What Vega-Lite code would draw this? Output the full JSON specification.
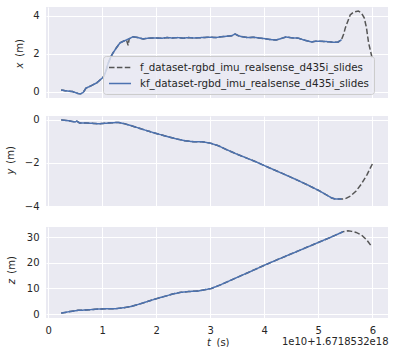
{
"$schema": "https://vega.github.io/schema/vega-lite/v6.json",
"background": "white",
"padding": {"left": 5, "top": 7, "right": 5, "bottom": 0},
"spacing": 16,
"datasets": {
"xd": [
{"s":"f","t":0.24,"v":0.10},{"s":"f","t":0.35,"v":0.05},{"s":"f","t":0.45,"v":0.02},{"s":"f","t":0.55,"v":-0.08},{"s":"f","t":0.6,"v":-0.1},{"s":"f","t":0.65,"v":-0.02},{"s":"f","t":0.7,"v":0.2},{"s":"f","t":0.8,"v":0.33},{"s":"f","t":0.9,"v":0.48},{"s":"f","t":0.96,"v":0.63},{"s":"f","t":1.02,"v":0.78},{"s":"f","t":1.07,"v":1.1},{"s":"f","t":1.11,"v":1.5},{"s":"f","t":1.16,"v":1.85},{"s":"f","t":1.2,"v":2.05},{"s":"f","t":1.27,"v":2.35},{"s":"f","t":1.33,"v":2.58},{"s":"f","t":1.4,"v":2.68},{"s":"f","t":1.45,"v":2.74},{"s":"f","t":1.48,"v":2.45},{"s":"f","t":1.5,"v":2.8},{"s":"f","t":1.57,"v":2.9},{"s":"f","t":1.65,"v":2.87},{"s":"f","t":1.76,"v":2.79},{"s":"f","t":1.85,"v":2.83},{"s":"f","t":2.0,"v":2.84},{"s":"f","t":2.1,"v":2.82},{"s":"f","t":2.2,"v":2.86},{"s":"f","t":2.3,"v":2.84},{"s":"f","t":2.4,"v":2.86},{"s":"f","t":2.5,"v":2.83},{"s":"f","t":2.6,"v":2.86},{"s":"f","t":2.7,"v":2.84},{"s":"f","t":2.78,"v":2.85},{"s":"f","t":2.9,"v":2.87},{"s":"f","t":3.0,"v":2.88},{"s":"f","t":3.1,"v":2.86},{"s":"f","t":3.2,"v":2.9},{"s":"f","t":3.3,"v":2.93},{"s":"f","t":3.4,"v":2.96},{"s":"f","t":3.46,"v":3.05},{"s":"f","t":3.52,"v":2.96},{"s":"f","t":3.6,"v":2.9},{"s":"f","t":3.7,"v":2.86},{"s":"f","t":3.8,"v":2.88},{"s":"f","t":3.9,"v":2.84},{"s":"f","t":4.0,"v":2.81},{"s":"f","t":4.1,"v":2.76},{"s":"f","t":4.22,"v":2.73},{"s":"f","t":4.3,"v":2.8},{"s":"f","t":4.4,"v":2.89},{"s":"f","t":4.5,"v":2.85},{"s":"f","t":4.63,"v":2.83},{"s":"f","t":4.75,"v":2.72},{"s":"f","t":4.87,"v":2.63},{"s":"f","t":4.95,"v":2.67},{"s":"f","t":5.1,"v":2.66},{"s":"f","t":5.2,"v":2.64},{"s":"f","t":5.3,"v":2.61},{"s":"f","t":5.37,"v":2.63},{"s":"f","t":5.43,"v":2.75},{"s":"f","t":5.47,"v":3.05},{"s":"f","t":5.5,"v":3.37},{"s":"f","t":5.55,"v":3.75},{"s":"f","t":5.59,"v":4.05},{"s":"f","t":5.65,"v":4.2},{"s":"f","t":5.74,"v":4.26},{"s":"f","t":5.8,"v":4.15},{"s":"f","t":5.85,"v":3.9},{"s":"f","t":5.89,"v":3.4},{"s":"f","t":5.93,"v":2.6},{"s":"f","t":5.97,"v":2.1},{"s":"f","t":6.0,"v":1.75},
{"s":"kf","t":0.24,"v":0.10},{"s":"kf","t":0.35,"v":0.05},{"s":"kf","t":0.45,"v":0.02},{"s":"kf","t":0.55,"v":-0.08},{"s":"kf","t":0.6,"v":-0.1},{"s":"kf","t":0.65,"v":-0.02},{"s":"kf","t":0.7,"v":0.2},{"s":"kf","t":0.8,"v":0.33},{"s":"kf","t":0.9,"v":0.48},{"s":"kf","t":0.96,"v":0.63},{"s":"kf","t":1.02,"v":0.78},{"s":"kf","t":1.07,"v":1.1},{"s":"kf","t":1.11,"v":1.5},{"s":"kf","t":1.16,"v":1.85},{"s":"kf","t":1.2,"v":2.05},{"s":"kf","t":1.27,"v":2.35},{"s":"kf","t":1.33,"v":2.58},{"s":"kf","t":1.4,"v":2.68},{"s":"kf","t":1.45,"v":2.74},{"s":"kf","t":1.5,"v":2.8},{"s":"kf","t":1.57,"v":2.9},{"s":"kf","t":1.65,"v":2.87},{"s":"kf","t":1.76,"v":2.79},{"s":"kf","t":1.85,"v":2.83},{"s":"kf","t":2.0,"v":2.84},{"s":"kf","t":2.1,"v":2.82},{"s":"kf","t":2.2,"v":2.86},{"s":"kf","t":2.3,"v":2.84},{"s":"kf","t":2.4,"v":2.86},{"s":"kf","t":2.5,"v":2.83},{"s":"kf","t":2.6,"v":2.86},{"s":"kf","t":2.7,"v":2.84},{"s":"kf","t":2.78,"v":2.85},{"s":"kf","t":2.9,"v":2.87},{"s":"kf","t":3.0,"v":2.88},{"s":"kf","t":3.1,"v":2.86},{"s":"kf","t":3.2,"v":2.9},{"s":"kf","t":3.3,"v":2.93},{"s":"kf","t":3.4,"v":2.96},{"s":"kf","t":3.46,"v":3.05},{"s":"kf","t":3.52,"v":2.96},{"s":"kf","t":3.6,"v":2.9},{"s":"kf","t":3.7,"v":2.86},{"s":"kf","t":3.8,"v":2.88},{"s":"kf","t":3.9,"v":2.84},{"s":"kf","t":4.0,"v":2.81},{"s":"kf","t":4.1,"v":2.76},{"s":"kf","t":4.22,"v":2.73},{"s":"kf","t":4.3,"v":2.8},{"s":"kf","t":4.4,"v":2.89},{"s":"kf","t":4.5,"v":2.85},{"s":"kf","t":4.63,"v":2.83},{"s":"kf","t":4.75,"v":2.72},{"s":"kf","t":4.87,"v":2.63},{"s":"kf","t":4.95,"v":2.67},{"s":"kf","t":5.1,"v":2.66},{"s":"kf","t":5.2,"v":2.64},{"s":"kf","t":5.3,"v":2.61},{"s":"kf","t":5.37,"v":2.63},{"s":"kf","t":5.43,"v":2.75}
],
"yd": [
{"s":"f","t":0.24,"v":0.0},{"s":"f","t":0.4,"v":-0.05},{"s":"f","t":0.5,"v":-0.1},{"s":"f","t":0.53,"v":-0.06},{"s":"f","t":0.58,"v":-0.14},{"s":"f","t":0.7,"v":-0.14},{"s":"f","t":0.8,"v":-0.16},{"s":"f","t":0.93,"v":-0.18},{"s":"f","t":1.05,"v":-0.16},{"s":"f","t":1.2,"v":-0.13},{"s":"f","t":1.3,"v":-0.12},{"s":"f","t":1.4,"v":-0.17},{"s":"f","t":1.54,"v":-0.27},{"s":"f","t":1.7,"v":-0.4},{"s":"f","t":1.85,"v":-0.52},{"s":"f","t":2.0,"v":-0.63},{"s":"f","t":2.17,"v":-0.75},{"s":"f","t":2.35,"v":-0.87},{"s":"f","t":2.53,"v":-0.97},{"s":"f","t":2.7,"v":-1.02},{"s":"f","t":2.85,"v":-1.02},{"s":"f","t":3.0,"v":-1.08},{"s":"f","t":3.15,"v":-1.2},{"s":"f","t":3.3,"v":-1.38},{"s":"f","t":3.52,"v":-1.62},{"s":"f","t":3.7,"v":-1.8},{"s":"f","t":3.83,"v":-1.93},{"s":"f","t":4.07,"v":-2.2},{"s":"f","t":4.3,"v":-2.45},{"s":"f","t":4.57,"v":-2.75},{"s":"f","t":4.8,"v":-3.02},{"s":"f","t":5.0,"v":-3.27},{"s":"f","t":5.15,"v":-3.48},{"s":"f","t":5.25,"v":-3.63},{"s":"f","t":5.32,"v":-3.68},{"s":"f","t":5.43,"v":-3.68},{"s":"f","t":5.5,"v":-3.66},{"s":"f","t":5.6,"v":-3.53},{"s":"f","t":5.7,"v":-3.3},{"s":"f","t":5.8,"v":-2.97},{"s":"f","t":5.9,"v":-2.55},{"s":"f","t":6.0,"v":-2.05},
{"s":"kf","t":0.24,"v":0.0},{"s":"kf","t":0.4,"v":-0.05},{"s":"kf","t":0.5,"v":-0.1},{"s":"kf","t":0.53,"v":-0.06},{"s":"kf","t":0.58,"v":-0.14},{"s":"kf","t":0.7,"v":-0.14},{"s":"kf","t":0.8,"v":-0.16},{"s":"kf","t":0.93,"v":-0.18},{"s":"kf","t":1.05,"v":-0.16},{"s":"kf","t":1.2,"v":-0.13},{"s":"kf","t":1.3,"v":-0.12},{"s":"kf","t":1.4,"v":-0.17},{"s":"kf","t":1.54,"v":-0.27},{"s":"kf","t":1.7,"v":-0.4},{"s":"kf","t":1.85,"v":-0.52},{"s":"kf","t":2.0,"v":-0.63},{"s":"kf","t":2.17,"v":-0.75},{"s":"kf","t":2.35,"v":-0.87},{"s":"kf","t":2.53,"v":-0.97},{"s":"kf","t":2.7,"v":-1.02},{"s":"kf","t":2.85,"v":-1.02},{"s":"kf","t":3.0,"v":-1.08},{"s":"kf","t":3.15,"v":-1.2},{"s":"kf","t":3.3,"v":-1.38},{"s":"kf","t":3.52,"v":-1.62},{"s":"kf","t":3.7,"v":-1.8},{"s":"kf","t":3.83,"v":-1.93},{"s":"kf","t":4.07,"v":-2.2},{"s":"kf","t":4.3,"v":-2.45},{"s":"kf","t":4.57,"v":-2.75},{"s":"kf","t":4.8,"v":-3.02},{"s":"kf","t":5.0,"v":-3.27},{"s":"kf","t":5.15,"v":-3.48},{"s":"kf","t":5.25,"v":-3.63},{"s":"kf","t":5.32,"v":-3.68},{"s":"kf","t":5.43,"v":-3.68}
],
"zd": [
{"s":"f","t":0.24,"v":0.4},{"s":"f","t":0.4,"v":1.0},{"s":"f","t":0.56,"v":1.5},{"s":"f","t":0.7,"v":1.6},{"s":"f","t":0.93,"v":2.0},{"s":"f","t":1.1,"v":2.1},{"s":"f","t":1.24,"v":2.1},{"s":"f","t":1.4,"v":2.5},{"s":"f","t":1.54,"v":3.0},{"s":"f","t":1.7,"v":4.0},{"s":"f","t":1.85,"v":5.0},{"s":"f","t":2.0,"v":6.0},{"s":"f","t":2.17,"v":7.0},{"s":"f","t":2.3,"v":7.8},{"s":"f","t":2.46,"v":8.5},{"s":"f","t":2.6,"v":8.8},{"s":"f","t":2.78,"v":9.0},{"s":"f","t":3.02,"v":10.0},{"s":"f","t":3.2,"v":11.5},{"s":"f","t":3.52,"v":14.5},{"s":"f","t":3.8,"v":17.1},{"s":"f","t":4.02,"v":19.2},{"s":"f","t":4.3,"v":21.7},{"s":"f","t":4.63,"v":24.6},{"s":"f","t":4.9,"v":27.0},{"s":"f","t":5.24,"v":30.0},{"s":"f","t":5.4,"v":31.5},{"s":"f","t":5.46,"v":32.1},{"s":"f","t":5.55,"v":32.4},{"s":"f","t":5.62,"v":32.2},{"s":"f","t":5.7,"v":31.8},{"s":"f","t":5.8,"v":30.8},{"s":"f","t":5.9,"v":28.8},{"s":"f","t":5.98,"v":26.5},
{"s":"kf","t":0.24,"v":0.4},{"s":"kf","t":0.4,"v":1.0},{"s":"kf","t":0.56,"v":1.5},{"s":"kf","t":0.7,"v":1.6},{"s":"kf","t":0.93,"v":2.0},{"s":"kf","t":1.1,"v":2.1},{"s":"kf","t":1.24,"v":2.1},{"s":"kf","t":1.4,"v":2.5},{"s":"kf","t":1.54,"v":3.0},{"s":"kf","t":1.7,"v":4.0},{"s":"kf","t":1.85,"v":5.0},{"s":"kf","t":2.0,"v":6.0},{"s":"kf","t":2.17,"v":7.0},{"s":"kf","t":2.3,"v":7.8},{"s":"kf","t":2.46,"v":8.5},{"s":"kf","t":2.6,"v":8.8},{"s":"kf","t":2.78,"v":9.0},{"s":"kf","t":3.02,"v":10.0},{"s":"kf","t":3.2,"v":11.5},{"s":"kf","t":3.52,"v":14.5},{"s":"kf","t":3.8,"v":17.1},{"s":"kf","t":4.02,"v":19.2},{"s":"kf","t":4.3,"v":21.7},{"s":"kf","t":4.63,"v":24.6},{"s":"kf","t":4.9,"v":27.0},{"s":"kf","t":5.24,"v":30.0},{"s":"kf","t":5.4,"v":31.5},{"s":"kf","t":5.46,"v":32.1}
]
},
"resolve": {"scale": {"x": "independent", "y": "independent", "color": "independent", "strokeDash": "independent"}},
"vconcat": [
{
"width": 342, "height": 91,
"data": {"name": "xd"},
"layer": [
{"mark": {"type": "line", "strokeWidth": 1.5},
"encoding": {
"x": {"field": "t", "type": "quantitative", "scale": {"domain": [-0.04, 6.29], "nice": false, "zero": false}, "axis": {"values": [0,1,2,3,4,5,6], "labels": false, "title": null, "minExtent": 0, "maxExtent": 0}},
"y": {"field": "v", "type": "quantitative", "scale": {"domain": [-0.32, 4.47], "nice": false, "zero": false}, "axis": {"values": [0,2,4], "title": "x", "titleFontStyle": "italic", "titleX": -27, "titleY": 58, "titleAngle": 270, "titleAlign": "center", "titleBaseline": "middle"}},
"color": {"field": "s", "type": "nominal", "scale": {"domain": ["f", "kf"], "range": ["#555555", "#4C72B0"]}, "legend": {"orient": "none", "legendX": 57, "legendY": 49, "title": null, "symbolType": "M-1,0H3", "symbolSize": 121, "symbolStrokeWidth": 1.5, "labelOffset": 19, "labelExpr": "datum.label + '_dataset-rgbd_imu_realsense_d435i_slides'"}},
"strokeDash": {"field": "s", "type": "nominal", "scale": {"domain": ["f", "kf"], "range": [[5.5, 2.4], [1, 0]]}, "legend": {"orient": "none", "legendX": 57, "legendY": 49, "title": null, "symbolType": "M-1,0H3", "symbolSize": 121, "symbolStrokeWidth": 1.5, "labelOffset": 19, "labelExpr": "datum.label + '_dataset-rgbd_imu_realsense_d435i_slides'"}}
}},
{"mark": {"type": "line", "strokeOpacity": 0},
"encoding": {
"x": {"field": "t", "type": "quantitative"},
"y": {"field": "v", "type": "quantitative", "axis": {"orient": "left", "grid": false, "labels": false, "title": "(m)", "titleX": -27, "titleY": 40.5, "titleAngle": 270, "titleAlign": "center", "titleBaseline": "middle"}}
}}
],
"resolve": {"axis": {"y": "independent"}}
},
{
"width": 342, "height": 90,
"data": {"name": "yd"},
"layer": [
{"mark": {"type": "line", "strokeWidth": 1.5},
"encoding": {
"x": {"field": "t", "type": "quantitative", "scale": {"domain": [-0.04, 6.29], "nice": false, "zero": false}, "axis": {"values": [0,1,2,3,4,5,6], "labels": false, "title": null, "minExtent": 0, "maxExtent": 0}},
"y": {"field": "v", "type": "quantitative", "scale": {"domain": [-4.0, 0.18], "nice": false, "zero": false}, "axis": {"values": [-4,-2,0], "title": "y", "titleFontStyle": "italic", "titleX": -35.5, "titleY": 55, "titleAngle": 270, "titleAlign": "center", "titleBaseline": "middle"}},
"color": {"field": "s", "type": "nominal", "scale": {"domain": ["f", "kf"], "range": ["#555555", "#4C72B0"]}, "legend": null},
"strokeDash": {"field": "s", "type": "nominal", "scale": {"domain": ["f", "kf"], "range": [[5.5, 2.4], [1, 0]]}, "legend": null}
}},
{"mark": {"type": "line", "strokeOpacity": 0},
"encoding": {
"x": {"field": "t", "type": "quantitative"},
"y": {"field": "v", "type": "quantitative", "axis": {"orient": "left", "grid": false, "labels": false, "title": "(m)", "titleX": -35.5, "titleY": 38.5, "titleAngle": 270, "titleAlign": "center", "titleBaseline": "middle"}}
}}
],
"resolve": {"axis": {"y": "independent"}}
},
{
"width": 342, "height": 91,
"data": {"name": "zd"},
"layer": [
{"mark": {"type": "line", "strokeWidth": 1.5},
"encoding": {
"x": {"field": "t", "type": "quantitative", "scale": {"domain": [-0.04, 6.29], "nice": false, "zero": false}, "axis": {"values": [0,1,2,3,4,5,6], "format": "d", "title": "t", "titleFontStyle": "italic", "titleX": 162.5, "titleY": 24, "titleAlign": "center", "titleBaseline": "middle"}},
"y": {"field": "v", "type": "quantitative", "scale": {"domain": [-1.5, 33.9], "nice": false, "zero": false}, "axis": {"values": [0,10,20,30], "title": "z", "titleFontStyle": "italic", "titleX": -34.5, "titleY": 54, "titleAngle": 270, "titleAlign": "center", "titleBaseline": "middle"}},
"color": {"field": "s", "type": "nominal", "scale": {"domain": ["f", "kf"], "range": ["#555555", "#4C72B0"]}, "legend": null},
"strokeDash": {"field": "s", "type": "nominal", "scale": {"domain": ["f", "kf"], "range": [[5.5, 2.4], [1, 0]]}, "legend": null}
}},
{"mark": {"type": "line", "strokeOpacity": 0},
"encoding": {
"x": {"field": "t", "type": "quantitative", "axis": {"orient": "bottom", "grid": false, "labels": false, "title": "(s)", "titleX": 176.5, "titleY": 24, "titleAlign": "center", "titleBaseline": "middle"}},
"y": {"field": "v", "type": "quantitative", "axis": {"orient": "left", "grid": false, "labels": false, "title": "(m)", "titleX": -34.5, "titleY": 37.5, "titleAngle": 270, "titleAlign": "center", "titleBaseline": "middle"}}
}},
{"mark": {"type": "line", "strokeOpacity": 0},
"encoding": {
"x": {"field": "t", "type": "quantitative", "axis": {"orient": "bottom", "grid": false, "labels": false, "title": "1e10+1.6718532e18", "titleX": 342, "titleY": 23, "titleAlign": "right", "titleBaseline": "middle"}},
"y": {"field": "v", "type": "quantitative", "axis": null}
}}
],
"resolve": {"axis": {"x": "independent", "y": "independent"}}
}
],
"config": {
"view": {"fill": "#EAEAF2", "stroke": null},
"axis": {"domain": false, "ticks": false, "gridColor": "#ffffff", "gridWidth": 1, "gridOpacity": 1, "labelFont": "DejaVu Sans", "labelFontSize": 10, "labelColor": "#262626", "labelPadding": 7, "titleFont": "DejaVu Sans", "titleFontSize": 10, "titleColor": "#262626", "titleFontWeight": "normal"},
"legend": {"labelFont": "DejaVu Sans", "labelFontSize": 10.3, "labelColor": "#262626", "labelLimit": 400, "rowPadding": 4, "padding": 5, "fillColor": "rgba(234,234,242,0.8)", "strokeColor": "#cccccc", "cornerRadius": 3}
}
}
